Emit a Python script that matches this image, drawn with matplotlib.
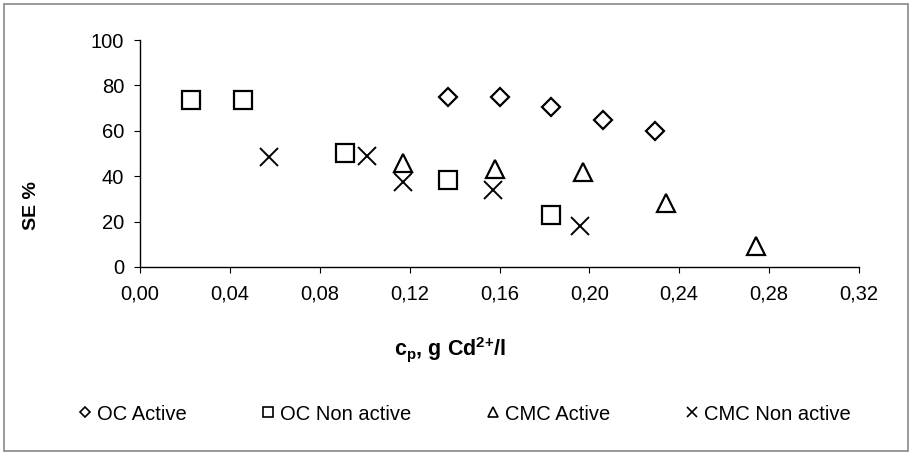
import matplotlib
matplotlib.use("Agg")
import matplotlib.pyplot as plt
from matplotlib.lines import Line2D
from matplotlib.ticker import FuncFormatter

plt.rcParams['font.family'] = ['Liberation Sans', 'DejaVu Sans']
plt.rcParams['mathtext.fontset'] = 'custom'
plt.rcParams['mathtext.rm'] = 'Liberation Sans'
plt.rcParams['mathtext.bf'] = 'Liberation Sans:bold'

oc_active_x = [0.137, 0.160, 0.183, 0.206, 0.229]
oc_active_y = [75.0, 75.0, 70.4, 64.6, 60.0]
oc_non_x = [0.0228, 0.0457, 0.0914, 0.137, 0.183]
oc_non_y = [73.6, 73.6, 50.2, 38.3, 22.7]
cmc_active_x = [0.117, 0.158, 0.197, 0.234, 0.274]
cmc_active_y = [45.7, 43.3, 41.9, 28.4, 9.4]
cmc_non_x = [0.0573, 0.101, 0.117, 0.157, 0.196]
cmc_non_y = [48.5, 49.0, 37.3, 34.0, 17.9]

x_ticks = [0.00, 0.04, 0.08, 0.12, 0.16, 0.20, 0.24, 0.28, 0.32]
y_ticks = [0, 20, 40, 60, 80, 100]

W, H = 909, 453
fig = plt.figure(figsize=(W / 100, H / 100), dpi=100)
ax = fig.add_axes([140 / W, 1 - 267 / H, 719 / W, 227 / H])

kw = dict(linestyle='none', markerfacecolor='none', markeredgecolor='black', markeredgewidth=1.6)
ax.plot(oc_active_x, oc_active_y, marker='D', markersize=9.5, label='OC Active', **kw)
ax.plot(oc_non_x, oc_non_y, marker='s', markersize=13.5, label='OC Non active', **kw)
ax.plot(cmc_active_x, cmc_active_y, marker='^', markersize=13.5, label='CMC Active', **kw)
ax.plot(cmc_non_x, cmc_non_y, marker='x', markersize=13, linestyle='none', color='black',
        markeredgewidth=1.4, label='CMC Non active')

ax.set_xlim(0, 0.32)
ax.set_ylim(0, 100)
ax.set_xticks(x_ticks)
ax.set_yticks(y_ticks)
ax.xaxis.set_major_formatter(FuncFormatter(lambda v, p: f"{v:.2f}".replace('.', ',')))
for s in ['top', 'right']:
    ax.spines[s].set_visible(False)
for s in ['left', 'bottom']:
    ax.spines[s].set_linewidth(1.0)
ax.tick_params(direction='out', length=4.5, width=0.8, labelsize=14.5, pad=8)
ax.tick_params(axis='y', pad=7)

fig.text(32 / W, 1 - 206 / H, 'SE %', fontsize=14, fontweight='bold', rotation=90,
         ha='center', va='center')
fig.text(450 / W, 1 - 350 / H, r'c$_\mathbf{p}$, g Cd$^{\mathbf{2{+}}}$/l', fontsize=15.5,
         fontweight='bold', ha='center', va='center')

handles = [
    Line2D([], [], marker='D', markersize=5.5, **kw),
    Line2D([], [], marker='s', markersize=7, **kw),
    Line2D([], [], marker='^', markersize=7, **kw),
    Line2D([], [], marker='x', markersize=7, linestyle='none', color='black', markeredgewidth=1.2),
]
for h in handles[:3]:
    h.set_markeredgewidth(1.2)
labels = ['OC Active', 'OC Non active', 'CMC Active', 'CMC Non active']
fig.legend(handles, labels, loc='center', bbox_to_anchor=(465 / W, 1 - 414 / H), ncol=4,
           frameon=False, fontsize=14.5, handlelength=0.6, handletextpad=0.3,
           columnspacing=3.75, borderpad=0, borderaxespad=0)

border = plt.Rectangle((4 / W, 1 - 451 / H), 904 / W, 447 / H, transform=fig.transFigure,
                       fill=False, edgecolor='#888888', linewidth=1.2)
fig.add_artist(border)

fig.savefig('out.png', dpi=100)
